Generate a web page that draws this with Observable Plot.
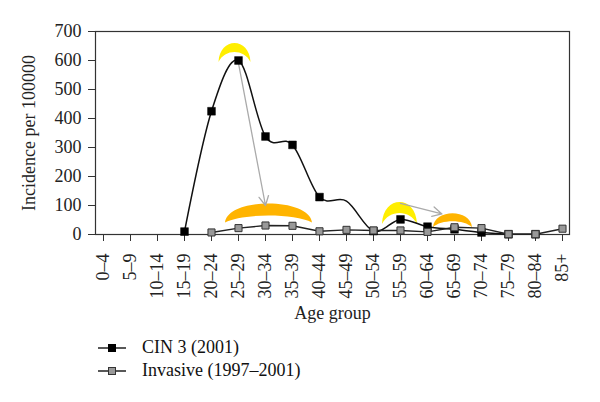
<!DOCTYPE html>
<html>
<head>
<meta charset="utf-8">
<script src="https://cdn.jsdelivr.net/npm/d3@7"></script>
<script src="https://cdn.jsdelivr.net/npm/@observablehq/plot@0.6"></script>
<style>
  html, body { margin: 0; padding: 0; background: #fff; }
  body { width: 600px; height: 402px; overflow: hidden; font-family: "Liberation Serif", serif; }
  #legend { padding-top: 2px; font-size: 18px; color: #111; }
  .row { display: flex; align-items: center; height: 23px; }
  .row svg { margin-left: 98px; margin-right: 16px; }
</style>
</head>
<body>
<div id="chart"></div>
<div id="legend"></div>
<script>
const ages = ["0–4","5–9","10–14","15–19","20–24","25–29","30–34","35–39","40–44","45–49","50–54","55–59","60–64","65–69","70–74","75–79","80–84","85+"];
const cin3 = [null,null,null,10,425,600,338,309,129,115,12,52,27,18,7,1,1,null];
const invasive = [null,null,null,null,7,22,31,30,11,16,14,14,9,25,22,1,1,20];
const cin3NoMarker = ["45–49"];
const seriesNames = ["CIN 3 (2001)", "Invasive (1997–2001)"];
const yTicks = [0,100,200,300,400,500,600,700];

const cinData = ages.map((a,i) => ({age:a, v:cin3[i]})).filter(d => d.v != null);
const invData = ages.map((a,i) => ({age:a, v:invasive[i]})).filter(d => d.v != null);

function arch(w, h, t) {
  const co = -5*h/6, ci = (-5*h + 8*t)/6;
  return {
    draw(ctx) {
      ctx.moveTo(-w/2, h/2);
      ctx.bezierCurveTo(-w*0.47, co, w*0.47, co, w/2, h/2);
      ctx.bezierCurveTo(w*0.3, ci, -w*0.3, ci, -w/2, h/2);
      ctx.closePath();
    }
  };
}
const one = (i, arr) => [{age: ages[i], v: arr[i]}];

const plot = Plot.plot({
  width: 600,
  height: 334,
  marginLeft: 95,
  marginRight: 31,
  marginTop: 31,
  marginBottom: 100,
  style: {fontFamily: "Liberation Serif, serif", fontSize: "18px", color: "#222", background: "#fff"},
  x: {type: "point", domain: ages, padding: 0},
  y: {domain: [0, 700]},
  marks: [
    Plot.frame({stroke: "#333", strokeWidth: 1.2}),
    Plot.axisY({ticks: yTicks, tickSize: 7, tickPadding: 7, label: null, stroke: "#333"}),
    Plot.axisX({tickRotate: -90, tickSize: 7, tickPadding: 12, label: null, stroke: "#333"}),
    Plot.text(["Incidence per 100000"], {frameAnchor: "left", textAnchor: "middle", rotate: -90, dx: -66, fill: "#222"}),
    Plot.text(["Age group"], {frameAnchor: "bottom", dy: 84, fill: "#222"}),
    // decorations
    Plot.dot(one(5, cin3), {x: "age", y: "v", dx: -4, dy: -8, symbol: arch(32, 19, 9), fill: "#ffee00", stroke: "none"}),
    Plot.dot(one(6, invasive), {x: "age", y: "v", dx: 3, dy: -12.5, symbol: arch(87, 19, 12), fill: "#ffb400", stroke: "none"}),
    Plot.dot(one(11, cin3), {x: "age", y: "v", dx: -1, dy: -6.5, symbol: arch(35, 22, 11), fill: "#ffee00", stroke: "none"}),
    Plot.dot(one(13, invasive), {x: "age", y: "v", dx: -2, dy: -7, symbol: arch(39, 14, 8), fill: "#ffb400", stroke: "none"}),
    Plot.arrow([{x1: ages[5], y1: 590, x2: ages[6], y2: 100}], {x1: "x1", y1: "y1", x2: "x2", y2: "y2", stroke: "#aaa", strokeWidth: 1.3, headLength: 12, headAngle: 55}),
    Plot.arrow([{x1: ages[11], y1: 107, x2: ages[13], y2: 60}], {x1: "x1", y1: "y1", x2: "x2", y2: "y2", stroke: "#aaa", strokeWidth: 1.3, headLength: 12, headAngle: 55, insetEnd: 13}),
    // series
    Plot.line(cinData, {x: "age", y: "v", stroke: "#111", strokeWidth: 1.5, curve: d3.curveCatmullRom.alpha(0)}),
    Plot.dot(cinData.filter(d => !cin3NoMarker.includes(d.age)), {x: "age", y: "v", symbol: "square", r: 4.4, fill: "#000", stroke: "#000", strokeWidth: 0.5}),
    Plot.line(invData, {x: "age", y: "v", stroke: "#222", strokeWidth: 1.4}),
    Plot.dot(invData, {x: "age", y: "v", symbol: "square", r: 4.0, fill: "#999", stroke: "#333", strokeWidth: 1})
  ]
});
document.getElementById("chart").appendChild(plot);

const legend = document.getElementById("legend");
const swatches = [{fill: "#000", stroke: "#000"}, {fill: "#999", stroke: "#333"}];
seriesNames.forEach((name, i) => {
  const row = document.createElement("div");
  row.className = "row";
  row.innerHTML = `<svg width="28" height="12"><line x1="0" x2="28" y1="6" y2="6" stroke="#111" stroke-width="1.4"/><rect x="10.5" y="2.5" width="7" height="7" fill="${swatches[i].fill}" stroke="${swatches[i].stroke}" stroke-width="1"/></svg><span>${name}</span>`;
  legend.appendChild(row);
});
</script>
</body>
</html>
